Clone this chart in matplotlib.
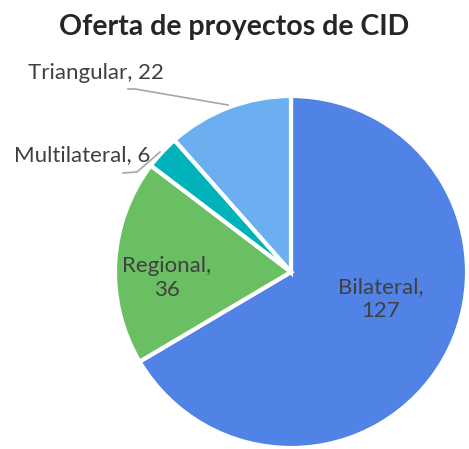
import matplotlib
matplotlib.use("Agg")
import matplotlib.pyplot as plt

categories = ["Bilateral", "Regional", "Multilateral", "Triangular"]
values = [127, 36, 6, 22]
colors = ["#5083E5", "#6ABF62", "#00B3BB", "#6CAFF0"]
title = "Oferta de proyectos de CID"

plt.rcParams['font.family'] = ['Lato', 'DejaVu Sans']

fig = plt.figure(figsize=(4.69, 4.49), dpi=100)
ax = fig.add_axes([0, 0, 1, 1])
ax.set_xlim(0, 469)
ax.set_ylim(0, 449)
ax.set_aspect('equal')
ax.axis('off')

center = (291, 177)
radius = 176
explode = [0.03, 0, 0, 0]
wedges, _ = ax.pie(values, colors=colors, startangle=90, counterclock=False,
                   center=center, radius=radius, explode=explode,
                   wedgeprops=dict(edgecolor='white', linewidth=3))
ax.set_xlim(0, 469)
ax.set_ylim(0, 449)

txt = "#404040"
fs = 16
ax.text(381, 449 - 299, f"{categories[0]},\n{values[0]}", ha='center', va='center',
        fontsize=fs, color=txt, linespacing=1.3)
ax.text(167, 449 - 278, f"{categories[1]},\n{values[1]}", ha='center', va='center',
        fontsize=fs, color=txt, linespacing=1.3)
ax.text(150, 449 - 155, f"{categories[2]}, {values[2]}", ha='right', va='center',
        fontsize=fs, color=txt)
ax.text(28, 449 - 73, f"{categories[3]}, {values[3]}", ha='left', va='center',
        fontsize=fs, color=txt)

ax.plot([123, 137, 160], [449-173, 449-172, 449-152], color='#A6A6A6', lw=1.2)
ax.plot([128, 135, 228], [449-89, 449-89, 449-105], color='#A6A6A6', lw=1.2)

fig.text(0.5, 1 - 27/449, title, ha='center', va='center', fontsize=20.5,
         fontweight='bold', color='#262626')

fig.savefig("out.png", dpi=100)
